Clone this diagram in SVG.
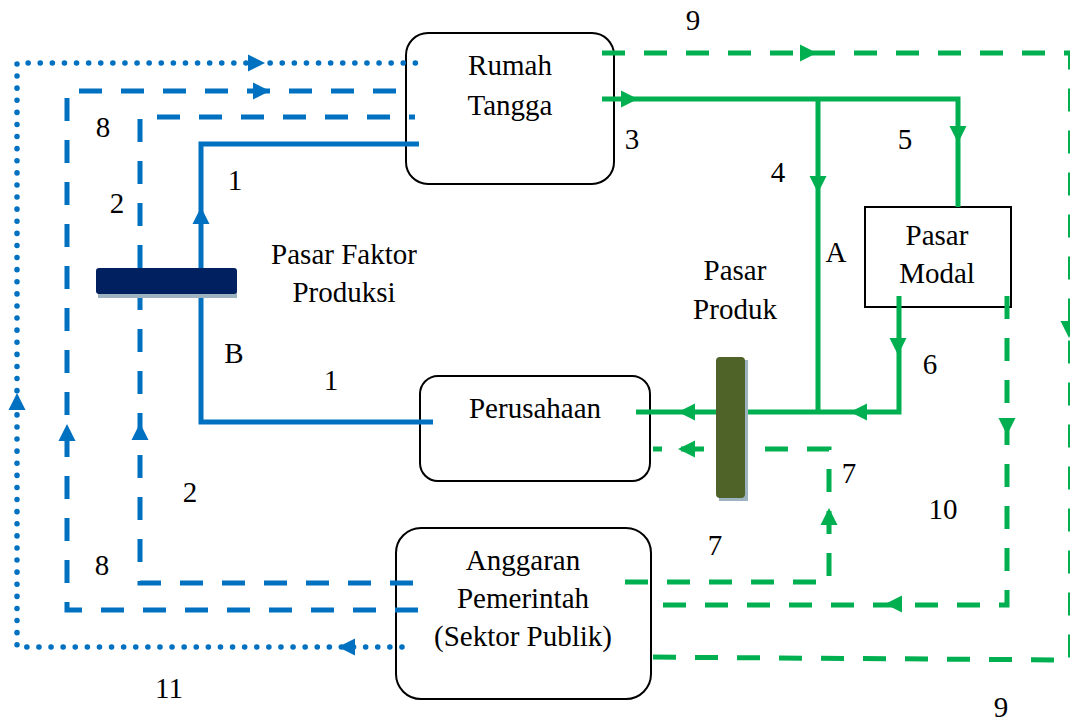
<svg xmlns="http://www.w3.org/2000/svg" width="1070" height="721" viewBox="0 0 1070 721">
<style>
.box{fill:#fff;stroke:#000;stroke-width:2}
text{font-family:'Liberation Serif','Times New Roman',Times,serif;font-size:29px;fill:#000;text-anchor:middle}
.b{fill:none;stroke:#0070C0;stroke-width:5}
.g{fill:none;stroke:#00B050;stroke-width:5}
.dash{stroke-dasharray:23 19}
.dot{stroke-dasharray:0.1 12;stroke-linecap:round;stroke-width:5.5}
.ab{fill:#0070C0}
.ag{fill:#00B050}
</style>
<defs>
<path id="ah" d="M0,0 L-17,-8.5 L-17,8.5 Z"/>
</defs>
<rect width="1070" height="721" fill="#fff"/>
<g id="rumah-tangga"><rect class="box" x="406" y="33" width="208" height="151" rx="22"/></g>
<g id="perusahaan"><rect class="box" x="420" y="376" width="230" height="105" rx="18"/></g>
<g id="anggaran"><rect class="box" x="396" y="528" width="255" height="171" rx="25"/></g>
<g id="pasar-modal"><rect class="box" x="865" y="207" width="146" height="100"/></g>
<g id="connectors">
<path class="b" d="M433,422 H201 V144 H419"/>
<path class="b dash" d="M413,583 H140 V117 H415"/>
<path class="b dash" d="M418,610 H67 V91 H414"/>
<path class="b dot" d="M402,647 H17 V63 H417"/>
<path class="g" d="M602,99 H958 V207"/>
<path class="g" d="M818,99 V412"/>
<path class="g" d="M899,296 V412 H636"/>
<path class="g dash" d="M625,582 H829 V449 H653"/>
<path class="g dash" d="M1007,296 V605 H651"/>
<path class="g dash" d="M602,53 H1070.5 V660 L638,657"/>
<use href="#ah" class="ab" transform="translate(201,207) rotate(-90)"/>
<use href="#ah" class="ab" transform="translate(140,423) rotate(-90)"/>
<use href="#ah" class="ab" transform="translate(67,424) rotate(-90)"/>
<use href="#ah" class="ab" transform="translate(270,91)"/>
<use href="#ah" class="ab" transform="translate(338,647) rotate(180)"/>
<use href="#ah" class="ab" transform="translate(17,393) rotate(-90)"/>
<use href="#ah" class="ab" transform="translate(265,63)"/>
<use href="#ah" class="ag" transform="translate(638,99)"/>
<use href="#ah" class="ag" transform="translate(958,143) rotate(90)"/>
<use href="#ah" class="ag" transform="translate(818,193) rotate(90)"/>
<use href="#ah" class="ag" transform="translate(898,355) rotate(90)"/>
<use href="#ah" class="ag" transform="translate(850,412) rotate(180)"/>
<use href="#ah" class="ag" transform="translate(678,412) rotate(180)"/>
<use href="#ah" class="ag" transform="translate(829,508) rotate(-90)"/>
<use href="#ah" class="ag" transform="translate(678,449) rotate(180)"/>
<use href="#ah" class="ag" transform="translate(1007,435) rotate(90)"/>
<use href="#ah" class="ag" transform="translate(885,604) rotate(180)"/>
<use href="#ah" class="ag" transform="translate(817,53)"/>
<use href="#ah" class="ag" transform="translate(1069,338) rotate(90)"/>
</g>
<g id="pasar-faktor-produksi">
<rect x="98" y="291" width="139" height="7" fill="#9DB3BF"/>
<rect x="96" y="268" width="141" height="26" rx="3" fill="#002060"/>
<text x="344" y="264">Pasar Faktor</text>
<text x="344" y="302">Produksi</text>
</g>
<g id="pasar-produk">
<rect x="719" y="360" width="29" height="141" fill="#9DB3BF"/>
<rect x="716" y="357" width="29" height="141" rx="4" fill="#4F6228"/>
<text x="735" y="280">Pasar</text>
<text x="735" y="319">Produk</text>
</g>
<g id="labels-nodes">
<text x="510" y="75">Rumah</text>
<text x="510" y="115">Tangga</text>
<text x="535" y="418">Perusahaan</text>
<text x="523" y="570">Anggaran</text>
<text x="523" y="608">Pemerintah</text>
<text x="523" y="646">(Sektor Publik)</text>
<text x="937" y="245">Pasar</text>
<text x="937" y="283">Modal</text>
</g>
<g id="labels">
<text x="693" y="30">9</text>
<text x="103" y="137">8</text>
<text x="235" y="190">1</text>
<text x="117" y="213">2</text>
<text x="632" y="149">3</text>
<text x="778" y="182">4</text>
<text x="905" y="149">5</text>
<text x="836" y="262">A</text>
<text x="234" y="363">B</text>
<text x="331" y="390">1</text>
<text x="930" y="374">6</text>
<text x="849" y="483">7</text>
<text x="943" y="519">10</text>
<text x="190" y="502">2</text>
<text x="715" y="555">7</text>
<text x="102" y="575">8</text>
<text x="169" y="698">11</text>
<text x="1001" y="717">9</text>
</g>
</svg>
